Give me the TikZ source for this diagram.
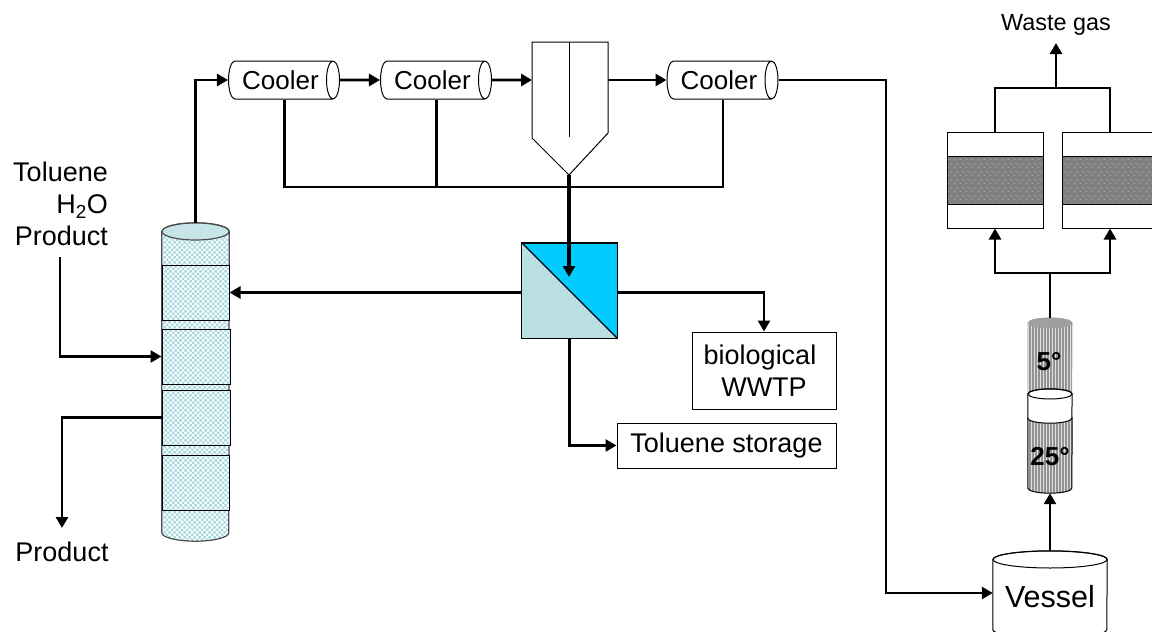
\documentclass[tikz,border=0pt]{standalone}
\usepackage{fontspec}
\setmainfont{Liberation Sans}
\usetikzlibrary{shapes.geometric,patterns,arrows.meta}
\definecolor{bedblue}{HTML}{B9DFE3}
\definecolor{bedcheck}{HTML}{A9D9E0}
\definecolor{memblue}{HTML}{00CCFF}
\definecolor{bandgray}{HTML}{808080}
\pgfdeclarepatternformonly{checker}{\pgfqpoint{0pt}{0pt}}{\pgfqpoint{5.4pt}{5.4pt}}{\pgfqpoint{5.4pt}{5.4pt}}{
    \pgfpathrectangle{\pgfqpoint{0pt}{0pt}}{\pgfqpoint{2.7pt}{2.7pt}}
    \pgfpathrectangle{\pgfqpoint{2.7pt}{2.7pt}}{\pgfqpoint{2.7pt}{2.7pt}}
    \pgfusepath{fill}
}
\pgfdeclarepatternformonly{stripes}{\pgfqpoint{0pt}{-1pt}}{\pgfqpoint{3pt}{4pt}}{\pgfqpoint{3pt}{3pt}}{
    \pgfpathrectangle{\pgfqpoint{0pt}{-1pt}}{\pgfqpoint{1.5pt}{5pt}}
    \pgfusepath{fill}
}
\pgfdeclarepatternformonly{sparsedots}{\pgfqpoint{0pt}{0pt}}{\pgfqpoint{6pt}{8pt}}{\pgfqpoint{6pt}{8pt}}{
    \pgfpathrectangle{\pgfqpoint{0pt}{0pt}}{\pgfqpoint{.8pt}{.8pt}}
    \pgfpathrectangle{\pgfqpoint{3pt}{4pt}}{\pgfqpoint{.8pt}{.8pt}}
    \pgfusepath{fill}
}
% upright drum outline: node, x radius, y radius, options
\newcommand{\drumshape}[4]{
    \path[#4] ([yshift=-#3pt]#1.north west) -- ([yshift=#3pt]#1.south west)
        arc[start angle=180, end angle=0, x radius=#2, y radius=#3]
        -- ([yshift=-#3pt]#1.north east)
        arc[start angle=0, end angle=-180, x radius=#2, y radius=#3] -- cycle;
}
\tikzset{
    label27/.style={font=\fontsize{27}{32}\selectfont, inner sep=0pt},
    stream/.style={line width=2.8pt, -{Triangle[length=11pt,width=12pt]}},
    plainstream/.style={line width=2.8pt},
    cooler/.style={cylinder, draw, line width=1pt, fill=white, shape aspect=0.68, minimum width=38pt, minimum height=111pt, inner sep=0pt, font=\fontsize{26}{32}\selectfont},
    packing/.style={preaction={fill=white}, pattern=checker, pattern color=bedcheck},
    bed/.style={draw, line width=1pt, minimum width=67pt, minimum height=55pt, inner sep=0pt, packing},
    box/.style={draw, line width=1pt, inner sep=0pt, label27},
    adsorber/.style={draw, line width=1pt, minimum width=96pt, minimum height=96pt, inner sep=0pt},
    adsband/.style={adsorber, minimum height=48pt, preaction={fill=bandgray}, pattern=sparsedots, pattern color=white},
    drum/.style={inner sep=0pt, minimum width=44pt},
    chilled/.style={preaction={fill=gray!25}, pattern=stripes, pattern color=gray!85},
}
\begin{document}
\begin{tikzpicture}[x=1pt, y=-1pt]
    \clip (0,0) rectangle (1152,632);
    % Column
    \node[drum, minimum width=67pt, minimum height=318pt] (column) at (195.5,382) {};
    \drumshape{column}{33.5}{8.5}{draw=black!70, line width=1.2pt, packing}
    \node[bed] (bed2) at (195.5,292.5) {};
    \node[bed, minimum width=68pt] (bed3) at (196,356.5) {};
    \node[bed, minimum width=68pt] (bed4) at (196,417.5) {};
    \node[bed] (bed5) at (195.5,482.5) {};
    \draw[line width=1.2pt, draw=black!70, fill=bedblue!80!white] (195.5,231.5) ellipse (33.5 and 8.5);
    % Feed and product
    \node[label27, align=right, anchor=north east] (feed) at (108,162) {Toluene\\H\textsubscript{2}O\\Product};
    \coordinate (feedstart) at (60,257);
    \node[label27] (product) at (62,552) {Product};
    \coordinate (productend) at (62,528);
    % Coolers
    \node[cooler] (cooler1) at (280.5,80) {Cooler};
    \node[cooler] (cooler2) at (432.5,80) {Cooler};
    \node[cooler] (cooler3) at (719,80) {Cooler};
    % Settler
    \coordinate (settlerw) at (532,80);
    \coordinate (settlere) at (608,80);
    \coordinate (settlertip) at (569,175);
    \draw[line width=1pt] (532,42) -- (608,42) -- (608,133) -- (settlertip) -- (532,138) -- cycle;
    \draw[line width=1pt] (569,42) -- (569,137);
    % Membrane
    \node[draw, line width=1pt, minimum size=95pt, inner sep=0pt, fill=memblue] (membrane) at (569.5,290.5) {};
    \fill[bedblue] (membrane.north west) -- (membrane.south east) -- (membrane.south west) -- cycle;
    \draw[line width=1pt] (membrane.north west) rectangle (membrane.south east);
    \draw[line width=1.2pt] (membrane.north west) -- (membrane.south east);
    \coordinate (memin) at (569,277);
    \node[box, minimum width=144pt, minimum height=77pt, align=center] (wwtp) at (764,370.5) {biological\hspace*{8pt}\\WWTP};
    \node[box, minimum width=219pt, minimum height=45pt] (storage) at (726.5,445.5) {Toluene storage};
    % Adsorbers
    \node[adsorber] (ads1) at (995,180) {};
    \node[adsorber] (ads2) at (1110,180) {};
    \node[adsband] (band1) at (995,180) {};
    \node[adsband] (band2) at (1110,180) {};
    \node[label27, font=\fontsize{23.4}{28}\selectfont] (waste) at (1056,25) {Waste gas};
    \coordinate (wasteend) at (1056,43);
    \coordinate (wastejoin) at (1056,88);
    \coordinate (inletjoin) at (1050,273);
    % Cold traps
    \node[drum, minimum height=82pt] (trap5) at (1050,359) {};
    \drumshape{trap5}{22}{5}{draw=gray!60, line width=.6pt, chilled}
    \draw[fill=gray!75, draw=gray!75] (1050,323) ellipse (22 and 5);
    \node[drum, minimum height=80pt] (trap25) at (1050,453) {};
    \drumshape{trap25}{22}{5}{draw, line width=1pt, chilled}
    \node[drum, minimum height=34pt] (trapgap) at (1050,406) {};
    \drumshape{trapgap}{22}{5}{draw, line width=1pt, fill=white}
    \draw[line width=1pt] (1050,394) ellipse (22 and 5);
    \node[label27, font=\fontsize{26}{32}\selectfont\bfseries] (t5) at (1049,362) {5°};
    \node[label27, font=\fontsize{26}{32}\selectfont\bfseries] (t25) at (1050,457) {25°};
    % Vessel
    \node[drum, minimum width=114pt, minimum height=87pt] (vessel) at (1050,594.5) {};
    \drumshape{vessel}{57}{8.5}{draw, line width=1pt, fill=white}
    \draw[line width=1pt] (1050,559.5) ellipse (57 and 8.5);
    \node[label27, font=\fontsize{30.5}{36}\selectfont] (vessellabel) at (1050,597) {Vessel};
    % Streams
    \draw[stream] (column.north) |- (cooler1.west);
    \draw[stream] (cooler1.east) -- (cooler2.west);
    \draw[stream] (cooler2.east) -- (settlerw);
    \draw[stream] (settlere) -- (cooler3.west);
    \draw[stream] (cooler3.east) -| (886,593) -- (vessel.west |- 886,593);
    \draw[plainstream] ([xshift=4pt]cooler1.south) |- (569,187) -| ([xshift=4pt]cooler3.south);
    \draw[plainstream] ([xshift=4pt]cooler2.south) -- ([xshift=4pt]cooler2.south |- 569,187);
    \draw[stream, line width=3.4pt] (settlertip) -- (memin);
    \draw[stream] (membrane.west |- bed2.east) -- (bed2.east);
    \draw[stream] (membrane.east |- bed2.east) -| (wwtp.north);
    \draw[stream] (membrane.south) |- (storage.west);
    \draw[stream] (feedstart) |- (bed3.west);
    \draw[stream] (bed4.west) -| (productend);
    \draw[stream] (vessel.north) -- (trap25.south);
    \draw[plainstream] (trap5.north) -- (inletjoin);
    \draw[stream] (inletjoin) -| (ads1.south);
    \draw[stream] (inletjoin) -| (ads2.south);
    \draw[plainstream] (ads1.north) |- (wastejoin) -| (ads2.north);
    \draw[stream] (wastejoin) -- (wasteend);
\end{tikzpicture}
\end{document}
